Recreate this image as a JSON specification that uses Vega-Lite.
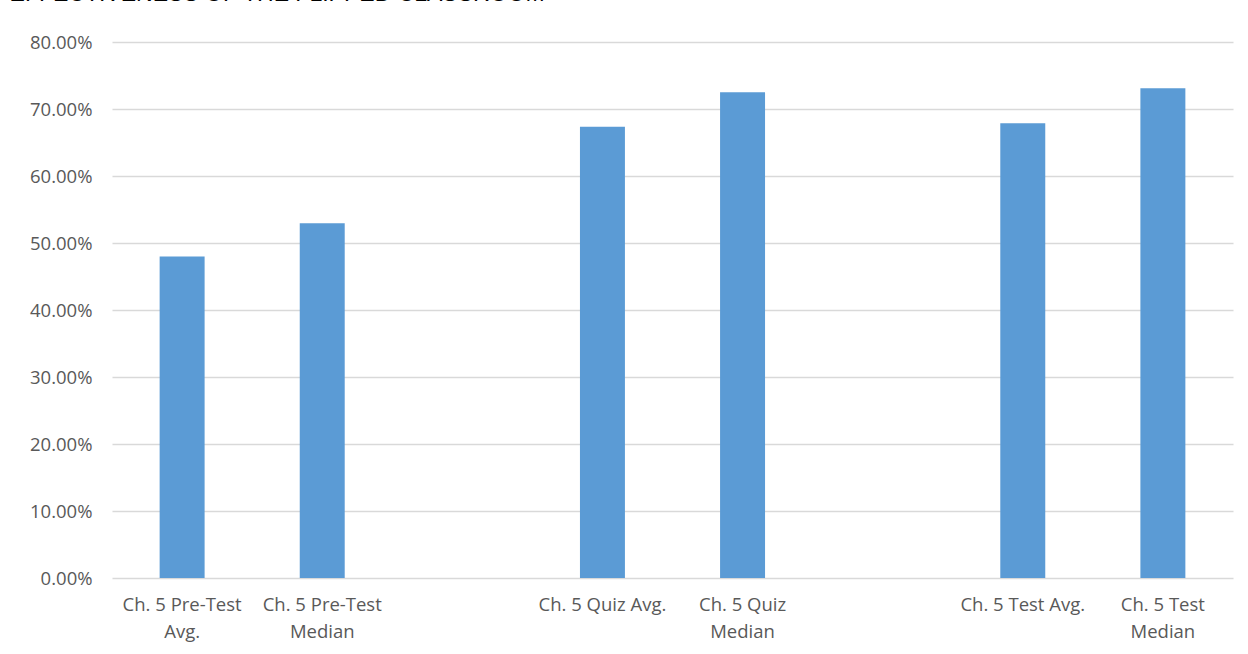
{
  "$schema": "https://vega.github.io/schema/vega-lite/v6.json",
  "width": 1121,
  "height": 536,
  "autosize": {"type": "none"},
  "padding": {"left": 112, "top": 42, "right": 15, "bottom": 76},
  "background": "white",
  "title": {
    "text": "EFFECTIVENESS OF THE FLIPPED CLASSROOM",
    "anchor": "start",
    "dx": -20,
    "offset": 27,
    "font": "Liberation Sans",
    "fontSize": 23,
    "fontWeight": "normal",
    "color": "#000000"
  },
  "data": {
    "values": [
      {"cat": "Ch. 5 Pre-Test|Avg.", "value": 0.4797},
      {"cat": "Ch. 5 Pre-Test|Median", "value": 0.5295},
      {"cat": "gap1", "value": null},
      {"cat": "Ch. 5 Quiz Avg.", "value": 0.6736},
      {"cat": "Ch. 5 Quiz|Median", "value": 0.7249},
      {"cat": "gap2", "value": null},
      {"cat": "Ch. 5 Test Avg.", "value": 0.6787},
      {"cat": "Ch. 5 Test|Median", "value": 0.7309}
    ]
  },
  "mark": {"type": "bar", "color": "#5b9bd5"},
  "encoding": {
    "x": {
      "field": "cat",
      "type": "nominal",
      "sort": null,
      "scale": {
        "domain": ["Ch. 5 Pre-Test|Avg.", "Ch. 5 Pre-Test|Median", "gap1", "Ch. 5 Quiz Avg.", "Ch. 5 Quiz|Median", "gap2", "Ch. 5 Test Avg.", "Ch. 5 Test|Median"],
        "paddingInner": 0.679,
        "paddingOuter": 0.34
      },
      "axis": {
        "title": null,
        "labelAngle": 0,
        "domain": false,
        "ticks": false,
        "tickSize": 0,
        "labelPadding": 17,
        "labelFont": "Open Sans",
        "labelFontSize": 18.5,
        "labelColor": "#595959",
        "labelLineHeight": 27,
        "labelExpr": "indexof(datum.value, 'gap') == 0 ? '' : split(datum.value, '|')"
      }
    },
    "y": {
      "field": "value",
      "type": "quantitative",
      "scale": {"domain": [0, 0.8], "nice": false},
      "axis": {
        "title": null,
        "values": [0, 0.1, 0.2, 0.3, 0.4, 0.5, 0.6, 0.7, 0.8],
        "format": ".2%",
        "domain": false,
        "ticks": false,
        "tickSize": 0,
        "labelPadding": 20,
        "labelFont": "Open Sans",
        "labelFontSize": 18.5,
        "labelColor": "#595959",
        "gridColor": "#d9d9d9",
        "gridWidth": 1.3
      }
    }
  },
  "config": {"view": {"stroke": null}}
}
